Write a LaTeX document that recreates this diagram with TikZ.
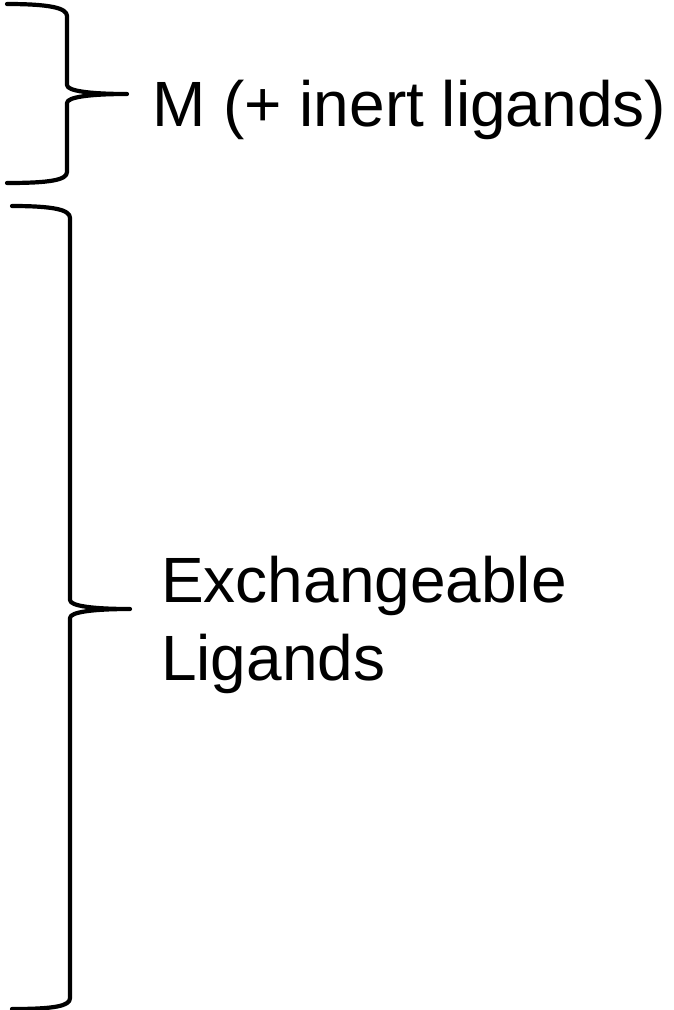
\documentclass[tikz,border=0pt]{standalone}
\usepackage{fontspec}
\setmainfont{Liberation Sans}
\begin{document}
\begin{tikzpicture}[x=1pt,y=-1pt,
  bracestyle/.style={line width=4.2pt,line cap=round,line join=round,black},
  label/.style={inner sep=0pt,anchor=base west,align=left,font=\fontsize{64}{78}\selectfont}]
\useasboundingbox (0,0) rectangle (673,1010);
% top brace
\coordinate (t1) at (127,94);
\draw[bracestyle] (7,4) .. controls (50,4) and (67,8) .. (67,16) -- (67,85)
   .. controls (67,91) and (90,94) .. (t1)
   .. controls (90,94) and (67,97) .. (67,103) -- (67,172)
   .. controls (67,180) and (50,183) .. (7,183);
% bottom brace
\coordinate (t2) at (130,609);
\draw[bracestyle] (12,206) .. controls (55,206) and (70,210) .. (70,218) -- (70,600)
   .. controls (70,606) and (93,609) .. (t2)
   .. controls (93,609) and (70,612) .. (70,618) -- (70,998)
   .. controls (70,1006) and (55,1009) .. (12,1009);
\node[label] (m) at (152,126) {M (+ inert ligands)};
\node[label] (ex) at (161,680) {Exchangeable\\Ligands};
\end{tikzpicture}
\end{document}
